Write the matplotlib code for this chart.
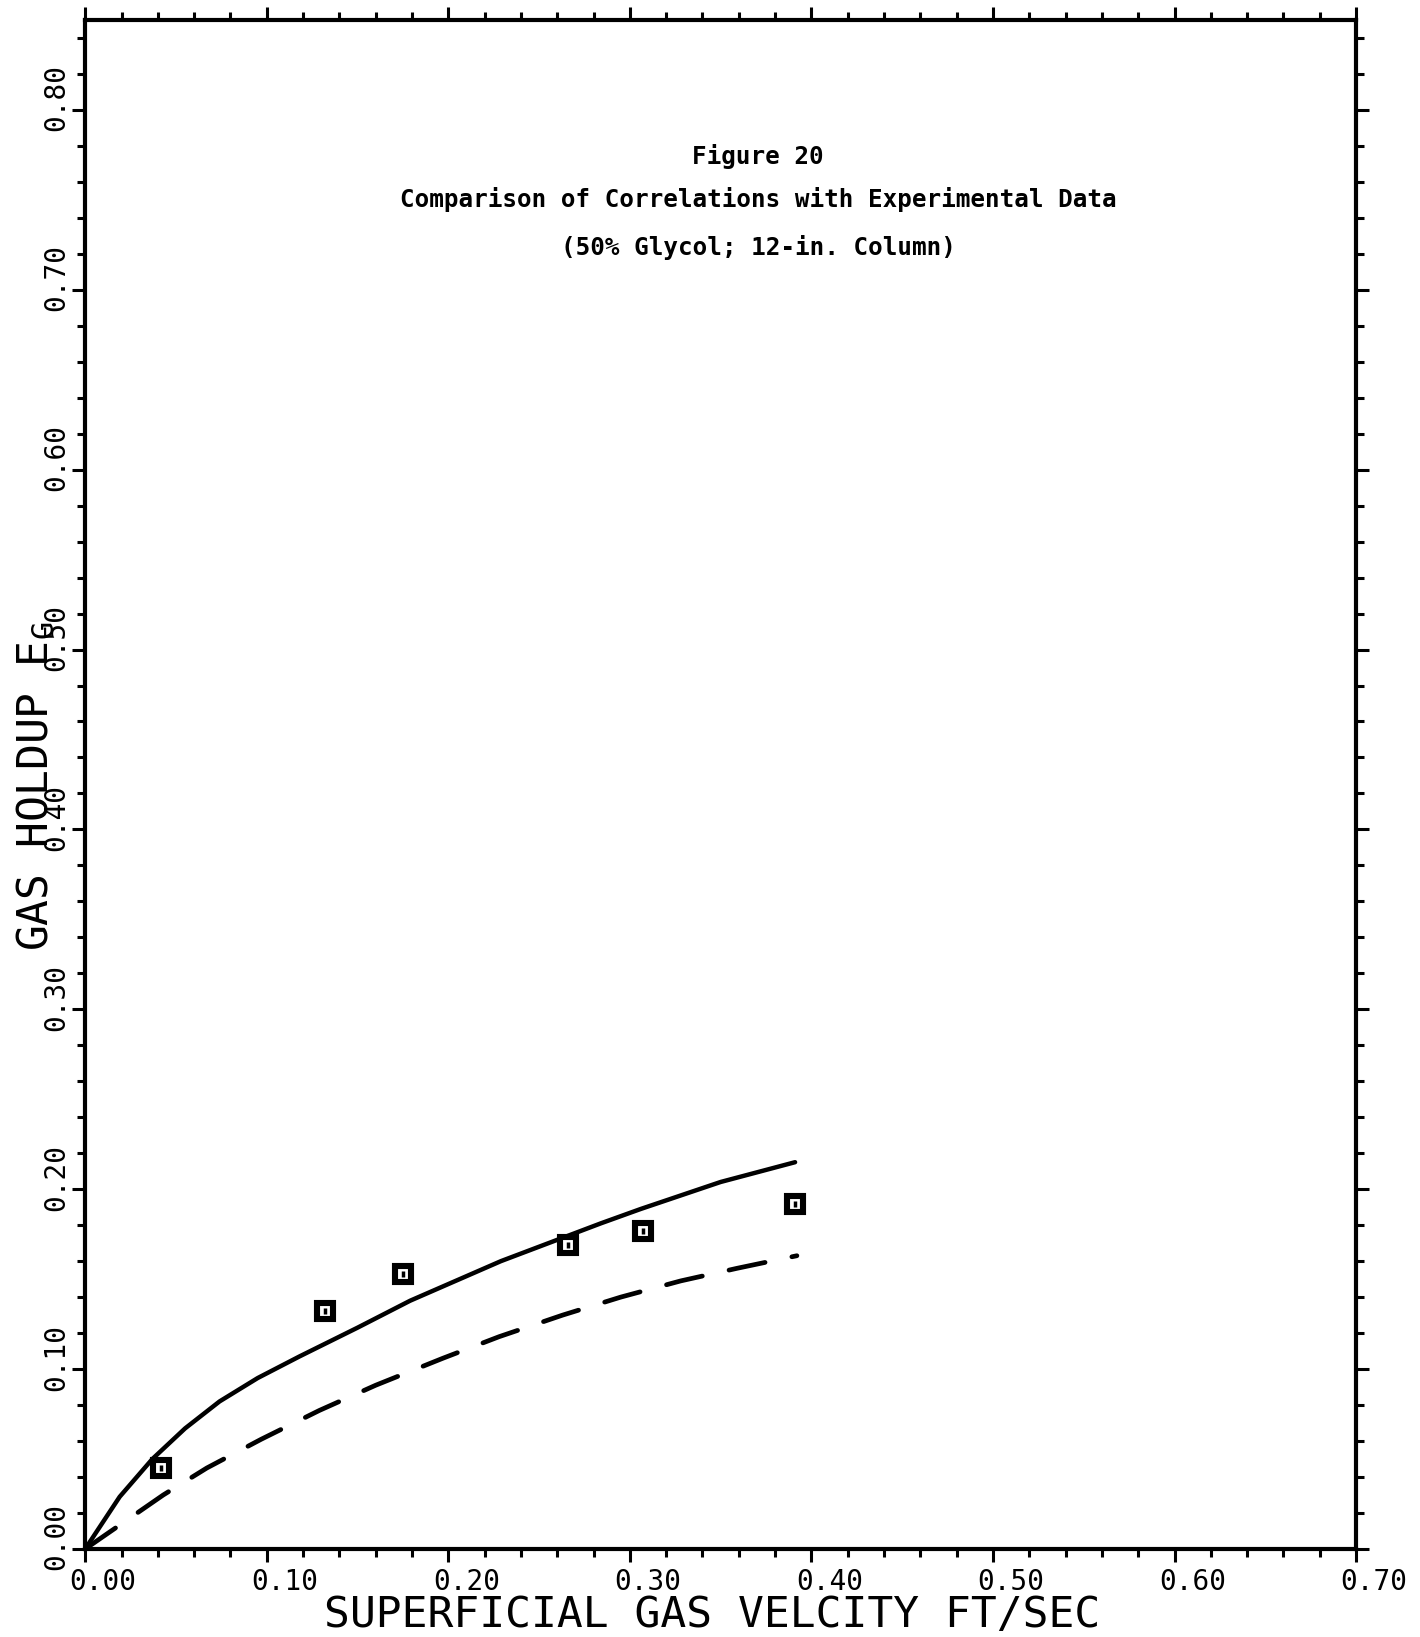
import matplotlib
matplotlib.use("Agg")
from matplotlib import pyplot as plt
from matplotlib.ticker import MultipleLocator
from matplotlib.transforms import ScaledTranslation


# experimental points, superficial gas velocity (ft/sec) vs gas holdup
exp_velocity = [0.042, 0.132, 0.175, 0.266, 0.307, 0.391]
exp_holdup = [0.045, 0.132, 0.153, 0.169, 0.177, 0.192]

# correlation curves
solid_velocity = [0.0, 0.019, 0.037, 0.055, 0.074, 0.095, 0.118, 0.129, 0.150,
                  0.179, 0.229, 0.284, 0.306, 0.350, 0.391]
solid_holdup = [0.0, 0.029, 0.050, 0.067, 0.082, 0.095, 0.107, 0.1125, 0.123,
                0.138, 0.160, 0.181, 0.189, 0.204, 0.215]

dashed_velocity = [0.0, 0.043, 0.067, 0.097, 0.129, 0.160, 0.197, 0.228, 0.263,
                   0.295, 0.328, 0.359, 0.392]
dashed_holdup = [0.0, 0.030, 0.045, 0.061, 0.077, 0.091, 0.106, 0.118, 0.130,
                 0.140, 0.149, 0.156, 0.163]

x_ticks = [0.0, 0.1, 0.2, 0.3, 0.4, 0.5, 0.6, 0.7]
x_ticklabels = ["0.00", "0.10", "0.20", "0.30", "0.40", "0.50", "0.60", "0.70"]
y_ticks = [0.0, 0.1, 0.2, 0.3, 0.4, 0.5, 0.6, 0.7, 0.8]
y_ticklabels = ["0.00", "0.10", "0.20", "0.30", "0.40", "0.50", "0.60", "0.70", "0.80"]

title_lines = ["Figure 20",
               "Comparison of Correlations with Experimental Data",
               "(50% Glycol; 12-in. Column)"]

MONO = "DejaVu Sans Mono"
TICK_SIZE = 20
LABEL_SIZE = 31
TITLE_SIZE = 17.5


def px(dx, dy, fig):
    # shift in pixels (figure at 100 dpi)
    return ScaledTranslation(dx / 100.0, dy / 100.0, fig.dpi_scale_trans)


def drawHoldup():
    plt.rcParams['mathtext.fontset'] = 'custom'
    plt.rcParams['mathtext.rm'] = MONO
    plt.rcParams['mathtext.it'] = MONO

    fig = plt.figure(figsize=(14.2, 16.37), dpi=100)
    ax = fig.add_axes([0.060, 0.0538, 0.895, 0.934])

    ax.plot(solid_velocity, solid_holdup, color='black', lw=3.2,
            solid_capstyle='round', solid_joinstyle='round')
    ax.plot(dashed_velocity, dashed_holdup, color='black', lw=3.4,
            linestyle=(0, (7.8, 5.8)), dash_capstyle='round')
    ax.plot(exp_velocity, exp_holdup, linestyle='none', marker='s',
            markersize=12, markerfacecolor='white', markeredgecolor='black',
            markeredgewidth=4.4)
    ax.plot(exp_velocity, exp_holdup, linestyle='none', marker='|',
            markersize=4, markeredgecolor='black', markeredgewidth=2.5)

    ax.set_xlim(0.0, 0.70)
    ax.set_ylim(0.0, 0.85)

    ax.set_xticks(x_ticks)
    ax.set_xticklabels(x_ticklabels, family=MONO, size=TICK_SIZE)
    ax.set_yticks(y_ticks)
    ax.set_yticklabels(y_ticklabels, family=MONO, size=TICK_SIZE, rotation=90,
                       va='center')
    ax.xaxis.set_minor_locator(MultipleLocator(0.02))
    ax.yaxis.set_minor_locator(MultipleLocator(0.02))

    ax.tick_params(which='both', direction='out', top=True, right=True,
                   width=2.2, color='black')
    ax.tick_params(which='major', length=9.5)
    ax.tick_params(which='minor', length=5.5)
    ax.tick_params(axis='x', which='major', pad=4.5)
    ax.tick_params(axis='y', which='major', pad=1.0)

    for lbl in ax.get_xticklabels():
        lbl.set_transform(lbl.get_transform() + px(18, 0, fig))
    for lbl in ax.get_yticklabels():
        lbl.set_transform(lbl.get_transform() + px(0, 12, fig))

    for side in ax.spines.values():
        side.set_linewidth(3.0)

    ax.set_xlabel("SUPERFICIAL GAS VELCITY FT/SEC", family=MONO, size=LABEL_SIZE)
    ax.xaxis.set_label_coords(0.493, -0.0432)
    ax.xaxis.label.set_va('center')
    ax.set_ylabel(r"GAS HOLDUP E$_\mathrm{G}$", family=MONO, size=LABEL_SIZE)
    ax.yaxis.set_label_coords(-0.0386, 0.499)
    ax.yaxis.label.set_va('center')
    ax.yaxis.label.set_ha('center')

    for line, ypos in zip(title_lines, [0.9104, 0.8823, 0.8509]):
        ax.text(0.5295, ypos, line, transform=ax.transAxes, ha='center',
                va='center', family=MONO, weight='bold', size=TITLE_SIZE)

    plt.savefig("out.png", dpi=100)
    plt.close()


drawHoldup()
